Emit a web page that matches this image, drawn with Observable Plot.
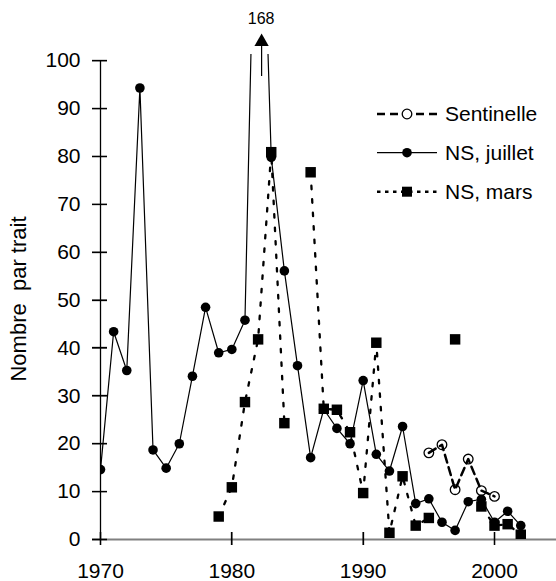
<!DOCTYPE html>
<html>
<head>
<meta charset="utf-8">
<script src="https://cdn.jsdelivr.net/npm/d3@7"></script>
<script src="https://cdn.jsdelivr.net/npm/@observablehq/plot@0.6"></script>
<style>
  body { margin: 0; background: #fff; }
  #wrap { position: relative; width: 556px; height: 581px; }
  #wrap svg text { white-space: pre; }
</style>
</head>
<body>
<div id="wrap"></div>
<script>
// ---- data ----
const years    = [1970,1971,1972,1973,1974,1975,1976,1977,1978,1979,1980,1981,1982,1983,1984,1985,1986,1987,1988,1989,1990,1991,1992,1993,1994,1995,1996,1997,1998,1999,2000,2001,2002];
const juillet  = [14.6,43.4,35.3,94.3,18.7,14.9,20.0,34.1,48.5,39.0,39.7,45.8,168,79.8,56.1,36.3,17.1,27.2,23.2,20.0,33.2,17.8,14.3,23.6,7.5,8.5,3.6,1.9,7.9,8.4,3.6,5.9,2.9];
const mars     = [null,null,null,null,null,null,null,null,null,4.8,10.9,28.7,41.8,80.9,24.3,null,76.7,27.3,27.1,22.4,9.7,41.1,1.4,13.2,2.9,4.5,null,41.8,null,6.9,2.9,3.2,1.0];
const sentYears  = [1995,1996,1997,1998,1999,2000];
const sentinelle = [18.1,19.8,10.4,16.8,10.2,9.0];
const xTicks = [1970,1980,1990,2000];
const yTicks = [0,10,20,30,40,50,60,70,80,90,100];
const peak = {year: 1982, label: "168"};
const legendLabels = ["Sentinelle","NS, juillet","NS, mars"];
const yLabel = "Nombre  par trait";

// ---- build ----
const font = "'Liberation Sans', Arial, Helvetica, sans-serif";
const rows = years.map((y, i) => ({year: y, juillet: juillet[i], mars: mars[i]}));
const sentRows = sentYears.map((y, i) => ({year: y, v: sentinelle[i]}));

const chart = Plot.plot({
  width: 556, height: 581,
  marginLeft: 100, marginRight: 0, marginTop: 54, marginBottom: 42,
  x: {domain: [1970, 2004.72]},
  y: {domain: [0, 101.3]},
  style: {fontFamily: font, background: "white", color: "black", overflow: "visible"},
  marks: [
    // x axis line (grey) and y axis line (black)
    Plot.ruleY([yTicks[0]], {stroke: "#808080", strokeWidth: 2, insetLeft: -8}),
    Plot.ruleX([xTicks[0]], {y1: yTicks[0], y2: yTicks[yTicks.length - 1], stroke: "black", strokeWidth: 1.3}),
    // crossing tick marks
    Plot.ruleY(yTicks, {y: d => d, x1: () => xTicks[0], x2: () => xTicks[0], insetLeft: -8, insetRight: -7, stroke: "black", strokeWidth: 1.3}),
    Plot.ruleX(xTicks, {x: d => d, y1: () => yTicks[0], y2: () => yTicks[0], insetTop: -7, insetBottom: -6, stroke: "black", strokeWidth: 1.3}),
    // tick labels
    Plot.axisY({ticks: yTicks, tickSize: 0, tickPadding: 20, fontSize: 21, label: null}),
    Plot.axisX({ticks: xTicks, tickSize: 0, tickPadding: 24, fontSize: 21, tickFormat: "d", label: null}),
    Plot.text([yLabel], {frameAnchor: "left", textAnchor: "middle", rotate: -90, dx: -82, dy: 2, fontSize: 22}),
    // series
    Plot.line(rows, {x: "year", y: "mars", stroke: "black", strokeWidth: 2.3, strokeDasharray: "3.5,10", clip: true}),
    Plot.line(rows, {x: "year", y: "juillet", stroke: "black", strokeWidth: 1.2, clip: true}),
    Plot.line(sentRows, {x: "year", y: "v", stroke: "black", strokeWidth: 2.5, strokeDasharray: "8,5"}),
    Plot.dot(rows, {x: "year", y: "mars", symbol: "square", r: 5.9, fill: "black", clip: true}),
    Plot.dot(rows, {x: "year", y: "juillet", r: 4.8, fill: "black", clip: true}),
    Plot.dot(sentRows, {x: "year", y: "v", r: 4.8, fill: "none", stroke: "black", strokeWidth: 1.3}),
    // off-scale annotation (168)
    Plot.ruleX([peak], {x: "year", y1: () => 96.7, y2: () => 103, dx: 3.5, stroke: "black", strokeWidth: 1.2}),
    Plot.dot([peak], {x: "year", y: () => 103.95, dx: 3.5, symbol: "triangle", r: 5.3, fill: "black"}),
    Plot.text([peak], {x: "year", y: () => 108.7, text: "label", dx: 3, fontSize: 16})
  ]
});
document.getElementById("wrap").appendChild(chart);

// ---- crossing ticks again, on top, through the chart's own scales ----
const sx = chart.scale("x"), sy = chart.scale("y");
const tg = d3.select(chart).append("g").attr("aria-label", "ticks")
  .attr("stroke", "black").attr("stroke-width", 1.3);
const x0 = sx.apply(xTicks[0]), y0 = sy.apply(yTicks[0]);
yTicks.forEach(t => {
  const y = Math.round(sy.apply(t)) + 0.5;
  tg.append("line").attr("x1", x0 - 8).attr("x2", x0 + 7).attr("y1", y).attr("y2", y);
});
xTicks.forEach(t => {
  const x = Math.round(sx.apply(t)) + 0.5;
  tg.append("line").attr("x1", x).attr("x2", x).attr("y1", y0 - 7).attr("y2", y0 + 6);
});

// ---- legend (inside plot area, top right), drawn into the chart's own svg ----
const lg = d3.select(chart).append("g").attr("aria-label", "legend").attr("text-anchor", "start");
const rowY = [114, 152.7, 191.7];
const styles = [
  {w: 2.5, dash: "8,5", marker: "open"},
  {w: 1.2, dash: null, marker: "circle"},
  {w: 2.5, dash: "3.5,4.5", marker: "square"}
];
legendLabels.forEach((lab, i) => {
  const y = rowY[i], s = styles[i];
  const ln = lg.append("line").attr("x1", 377).attr("x2", 437).attr("y1", y).attr("y2", y)
    .attr("stroke", "black").attr("stroke-width", s.w);
  if (s.dash) ln.attr("stroke-dasharray", s.dash);
  if (s.marker === "open") lg.append("circle").attr("cx", 407).attr("cy", y).attr("r", 4.8).attr("fill", "white").attr("stroke", "black").attr("stroke-width", 1.3);
  if (s.marker === "circle") lg.append("circle").attr("cx", 407).attr("cy", y).attr("r", 4.8).attr("fill", "black");
  if (s.marker === "square") lg.append("rect").attr("x", 402).attr("y", y - 5).attr("width", 10).attr("height", 10).attr("fill", "black");
  lg.append("text").attr("x", 445).attr("y", y).attr("dy", "0.35em").attr("text-anchor", "start")
    .attr("font-family", font).attr("font-size", 21).attr("fill", "black").text(lab);
});
</script>
</body>
</html>
